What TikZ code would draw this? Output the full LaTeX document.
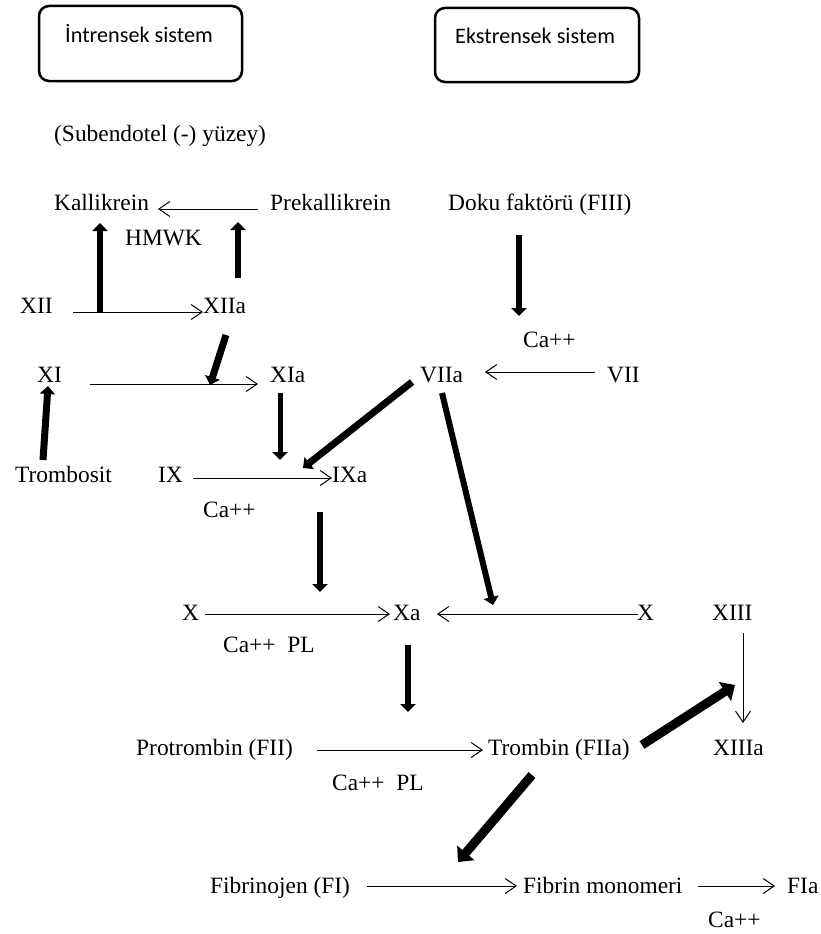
\documentclass[tikz,border=0pt]{standalone}
\usepackage{fontspec}
\setmainfont{Liberation Serif}
\newfontfamily\boxfont{Carlito}
\usetikzlibrary{arrows.meta}
\begin{document}
\begin{tikzpicture}[x=1pt,y=-1pt,
  lbl/.style={anchor=base west,inner sep=0pt,font=\fontsize{23.4}{27}\selectfont},
  boxlbl/.style={anchor=base west,inner sep=0pt,font=\boxfont\fontsize{22.2}{26}\selectfont},
  sysbox/.style={draw,line width=2.5pt,rounded corners=10pt,inner sep=0pt},
  thinarr/.style={line width=1pt,-{Straight Barb[length=11pt,width=15pt]}},
  thickarr/.style={line width=6pt,-{Triangle[length=8pt,width=15pt]}},
  heavyarr/.style={line width=9pt,-{Triangle[length=12pt,width=22pt]}},
]
\useasboundingbox (0,0) rectangle (821,934);

% system boxes
\node[sysbox,minimum width=203pt,minimum height=75pt] (ibox) at (140.5,43.5) {};
\node[sysbox,minimum width=204pt,minimum height=74pt] (ebox) at (537,45) {};
\node[boxlbl] (itxt) at (65,43) {İntrensek sistem};
\node[boxlbl] (etxt) at (455,44) {Ekstrensek sistem};

% labels
\node[lbl] (sub) at (54,141) {(Subendotel (-) yüzey)};
\node[lbl] (kal) at (54,210) {Kallikrein};
\node[lbl] (pre) at (270,210) {Prekallikrein};
\node[lbl] (doku) at (448,210) {Doku faktörü (FIII)};
\node[lbl] (hmwk) at (125,245) {HMWK};
\node[lbl] (xii) at (20,313) {XII};
\node[lbl] (xiia) at (203,313) {XIIa};
\node[lbl] (ca1) at (523,347) {Ca++};
\node[lbl] (xi) at (37,382) {XI};
\node[lbl] (xia) at (270,382) {XIa};
\node[lbl] (viia) at (420,382) {VIIa};
\node[lbl] (vii) at (607,382) {VII};
\node[lbl] (tromb) at (15,482) {Trombosit};
\node[lbl] (ix) at (158,482) {IX};
\node[lbl] (ixa) at (332,482) {IXa};
\node[lbl] (ca2) at (203,517) {Ca++};
\node[lbl] (x) at (182,620) {X};
\node[lbl] (xa) at (393,620) {Xa};
\node[lbl] (xr) at (637,620) {X};
\node[lbl] (xiii) at (712,620) {XIII};
\node[lbl] (capl1) at (223,652) {Ca++\ \ PL};
\node[lbl] (pro) at (136,755) {Protrombin (FII)};
\node[lbl] (trm) at (488,755) {Trombin (FIIa)};
\node[lbl] (xiiia) at (713,755) {XIIIa};
\node[lbl] (capl2) at (332,790) {Ca++\ \ PL};
\node[lbl] (fib) at (210,893) {Fibrinojen (FI)};
\node[lbl] (fmon) at (523,893) {Fibrin monomeri};
\node[lbl] (fia) at (787,893) {FIa};
\node[lbl] (ca3) at (708,927) {Ca++};

% connector end points
\coordinate (pkS) at (258,209); \coordinate (pkE) at (158,209);
\coordinate (x12S) at (73,312); \coordinate (x12E) at (203,312);
\coordinate (x11S) at (90,384); \coordinate (x11E) at (258,384);
\coordinate (x7S) at (595,372); \coordinate (x7E) at (485,372);
\coordinate (x9S) at (193,478); \coordinate (x9E) at (332,478);
\coordinate (x10S) at (205,614); \coordinate (x10E) at (390,614);
\coordinate (x10rS) at (638,614); \coordinate (x10rE) at (437,614);
\coordinate (x13S) at (743,633); \coordinate (x13E) at (743,723);
\coordinate (x2S) at (317,750); \coordinate (x2E) at (483,750);
\coordinate (f1S) at (367,886); \coordinate (f1E) at (517,886);
\coordinate (f2S) at (698,886); \coordinate (f2E) at (775,886);

\coordinate (t1S) at (100,313); \coordinate (t1E) at (100,223);
\coordinate (t2S) at (238,278); \coordinate (t2E) at (238,222);
\coordinate (t3S) at (226,335); \coordinate (t3E) at (210,385);
\coordinate (t4S) at (43,460); \coordinate (t4E) at (48,386);
\coordinate (t5S) at (280,393); \coordinate (t5E) at (280,460);
\coordinate (t6S) at (412,382); \coordinate (t6E) at (303,468);
\coordinate (t7S) at (519,235); \coordinate (t7E) at (519,316);
\coordinate (t8S) at (442,393); \coordinate (t8E) at (493,605);
\coordinate (t9S) at (320,512); \coordinate (t9E) at (320,592);
\coordinate (t10S) at (408,645); \coordinate (t10E) at (408,712);
\coordinate (t11S) at (642,745); \coordinate (t11E) at (735,685);
\coordinate (t12S) at (532,775); \coordinate (t12E) at (458,862);

% thin arrows
\draw[thinarr] (pkS) -- (pkE);
\draw[thinarr] (x12S) -- (x12E);
\draw[thinarr] (x11S) -- (x11E);
\draw[thinarr] (x7S) -- (x7E);
\draw[thinarr] (x9S) -- (x9E);
\draw[thinarr] (x10S) -- (x10E);
\draw[thinarr] (x10rS) -- (x10rE);
\draw[thinarr] (x13S) -- (x13E);
\draw[thinarr] (x2S) -- (x2E);
\draw[thinarr] (f1S) -- (f1E);
\draw[thinarr] (f2S) -- (f2E);

% thick arrows
\draw[thickarr] (t1S) -- (t1E);
\draw[thickarr] (t2S) -- (t2E);
\draw[thickarr,line width=7pt] (t3S) -- (t3E);
\draw[thickarr,line width=7pt] (t4S) -- (t4E);
\draw[thickarr,line width=5pt] (t5S) -- (t5E);
\draw[thickarr,line width=7pt] (t6S) -- (t6E);
\draw[thickarr] (t7S) -- (t7E);
\draw[thickarr] (t8S) -- (t8E);
\draw[thickarr] (t9S) -- (t9E);
\draw[thickarr] (t10S) -- (t10E);
\draw[heavyarr] (t11S) -- (t11E);
\draw[heavyarr] (t12S) -- (t12E);
\end{tikzpicture}
\end{document}
